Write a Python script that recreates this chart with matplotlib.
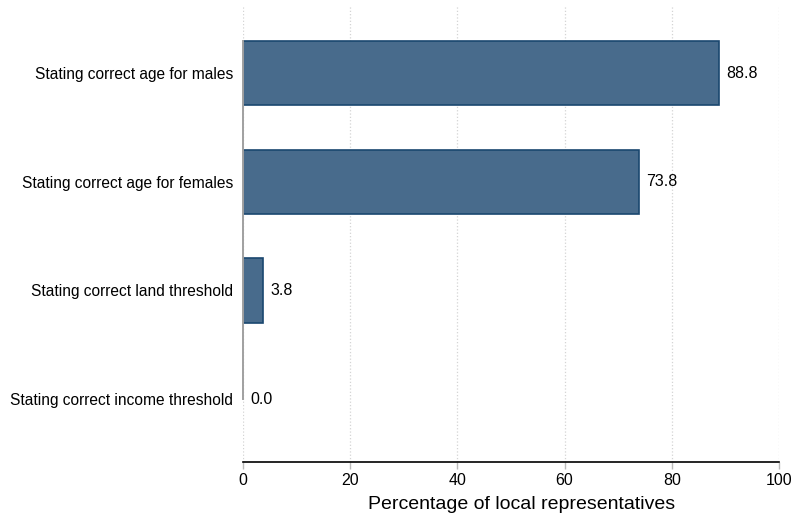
import matplotlib
matplotlib.use('Agg')
import matplotlib.pyplot as plt

plt.rcParams['font.family'] = ['Liberation Sans', 'DejaVu Sans']

categories = ['Stating correct age for males', 'Stating correct age for females',
              'Stating correct land threshold', 'Stating correct income threshold']
values = [88.8, 73.8, 3.8, 0.0]
xticks = [0, 20, 40, 60, 80, 100]

fig = plt.figure(figsize=(7.94, 5.22), dpi=100)
ax = fig.add_axes([243/794, (522-462)/522, (779-243)/794, (462-5)/522])

pos = list(range(len(categories)))
bars = ax.barh(pos, values, height=0.59, color='#486b8c', edgecolor='#1a476f', linewidth=1.2, zorder=3)
for b, v in zip(bars, values):
    if v == 0:
        b.set_linewidth(0)
for p, v in zip(pos, values):
    ax.text(v + 1.4, p, f'{v:.1f}', va='center', ha='left', fontsize=11.5, color='black')

ax.set_ylim(3.58, -0.63)
ax.set_xlim(0, 100)
ax.set_yticks(pos)
ax.set_yticklabels(categories, fontsize=11.2)
ax.tick_params(axis='y', length=0, pad=7)
ax.set_xticks(xticks)
ax.set_xticklabels([str(t) for t in xticks], fontsize=11.5)
ax.tick_params(axis='x', length=5, color='#bbbbbb', width=1, pad=3)
ax.set_xlabel('Percentage of local representatives', fontsize=14, labelpad=9)
ax.xaxis.set_label_coords(0.519, -0.075)

ax.grid(axis='x', linestyle=':', color='#d4d4d4', linewidth=0.9, zorder=0)
for s in ['top', 'right', 'left']:
    ax.spines[s].set_visible(False)
ax.spines['bottom'].set_linewidth(1.2)
ax.plot([0, 0], [-0.3, 3.0], color='#a0a0a0', linewidth=1.4, zorder=4, clip_on=False)

fig.savefig('out.png', dpi=100)
